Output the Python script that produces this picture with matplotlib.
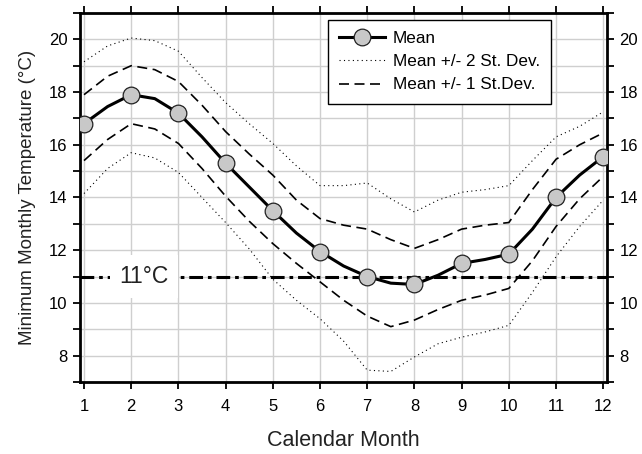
import matplotlib
matplotlib.use("Agg")
import matplotlib.pyplot as plt
from matplotlib.ticker import MultipleLocator

plt.rcParams['font.family'] = ['Liberation Sans', 'DejaVu Sans']

# half-month grid
months = [1, 1.5, 2, 2.5, 3, 3.5, 4, 4.5, 5, 5.5, 6, 6.5,
          7, 7.5, 8, 8.5, 9, 9.5, 10, 10.5, 11, 11.5, 12]
mean = [16.8, 17.45, 17.9, 17.75, 17.2, 16.3, 15.3, 14.4, 13.5, 12.65, 11.95, 11.4,
        11.0, 10.75, 10.7, 11.05, 11.5, 11.65, 11.85, 12.8, 14.0, 14.85, 15.55]
up1 = [17.9, 18.6, 19.0, 18.85, 18.4, 17.5, 16.5, 15.65, 14.85, 13.9, 13.2, 12.95,
       12.8, 12.4, 12.07, 12.4, 12.8, 12.95, 13.05, 14.3, 15.45, 16.0, 16.45]
lo1 = [15.4, 16.2, 16.8, 16.6, 16.05, 15.1, 14.05, 13.1, 12.25, 11.5, 10.8, 10.1,
       9.5, 9.1, 9.35, 9.75, 10.1, 10.3, 10.55, 11.6, 12.9, 13.95, 14.8]
up2 = [19.15, 19.75, 20.05, 19.95, 19.55, 18.55, 17.6, 16.8, 16.05, 15.2, 14.45, 14.45,
       14.55, 13.95, 13.45, 13.9, 14.2, 14.3, 14.45, 15.4, 16.3, 16.7, 17.25]
lo2 = [14.15, 15.1, 15.7, 15.5, 14.95, 14.0, 13.05, 12.05, 10.9, 10.1, 9.4, 8.55,
       7.45, 7.4, 7.95, 8.45, 8.7, 8.9, 9.15, 10.4, 11.75, 12.9, 13.9]
threshold = 11

fig = plt.figure(figsize=(6.42, 4.54), dpi=100)
ax = fig.add_axes([0.1246, 0.1586, 0.8209, 0.8128])

ax.grid(True, which='both', color='#cfcfcf', linewidth=1.0, zorder=0)
ax.set_axisbelow(True)

ax.plot(months, up2, color='black', lw=0.8, linestyle=(0, (1, 3)), label='Mean +/- 2 St. Dev.', zorder=2)
ax.plot(months, lo2, color='black', lw=0.8, linestyle=(0, (1, 3)), zorder=2)
ax.plot(months, up1, color='black', lw=1.2, linestyle=(0, (6, 3.3)), label='Mean +/- 1 St.Dev.', zorder=2)
ax.plot(months, lo1, color='black', lw=1.2, linestyle=(0, (6, 3.3)), zorder=2)

ax.axhline(threshold, color='black', lw=2.2, linestyle=(0, (4.5, 1.6, 1.2, 1.6)), zorder=3)
ax.text(2.27, threshold, '11°C', fontsize=16.5, ha='center', va='center', color='#222222',
        bbox=dict(facecolor='white', edgecolor='none', pad=7), zorder=4)

ax.plot(months, mean, color='black', lw=2.2, marker='o', markevery=slice(0, None, 2),
        markersize=12, markerfacecolor='#c8c8c8', markeredgecolor='#222222',
        markeredgewidth=0.9, label='Mean', zorder=5)

ax.set_xlim(0.915, 12.08)
ax.set_ylim(7, 21)
ax.xaxis.set_major_locator(MultipleLocator(1))
ax.yaxis.set_major_locator(MultipleLocator(2))
ax.yaxis.set_minor_locator(MultipleLocator(1))
ax.tick_params(which='both', direction='out', length=5, width=1.3, color='black',
               top=True, right=True, labelright=True, labelsize=12)
ax.tick_params(axis='x', pad=7)
ax.tick_params(axis='y', pad=4)

for s in ax.spines.values():
    s.set_linewidth(2)

ax.set_xlabel('Calendar Month', fontsize=15.5, color='#222222', labelpad=12)
ax.set_ylabel('Minimum Monthly Temperature (°C)', fontsize=13.5, color='#222222', labelpad=9)

h, l = ax.get_legend_handles_labels()
order = [2, 0, 1]
leg = ax.legend([h[i] for i in order], [l[i] for i in order], loc='upper left',
                bbox_to_anchor=(0.4706, 0.981), borderaxespad=0, fontsize=12.3,
                fancybox=False, framealpha=1, edgecolor='black', handlelength=2.7,
                borderpad=0.65, labelspacing=0.48, handletextpad=0.45)
leg.get_frame().set_linewidth(1.0)

fig.savefig('out.png', dpi=100)
